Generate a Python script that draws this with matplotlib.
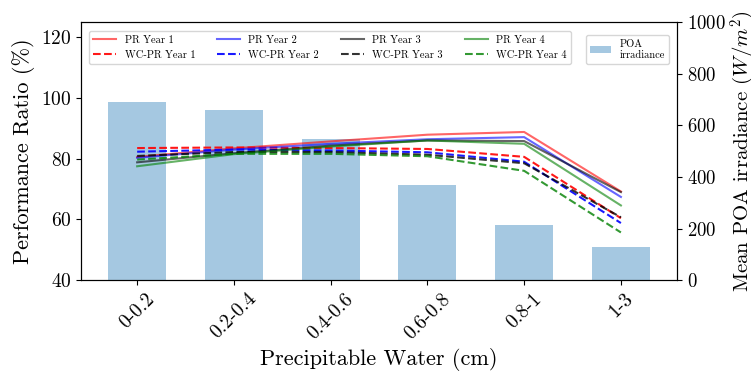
import matplotlib
matplotlib.use("Agg")
import matplotlib.pyplot as plt
import numpy as np

plt.rcParams['font.family'] = 'serif'
plt.rcParams['font.serif'] = ['cmr10', 'DejaVu Serif']
plt.rcParams['mathtext.fontset'] = 'cm'
plt.rcParams['axes.formatter.use_mathtext'] = True

categories = ['0-0.2', '0.2-0.4', '0.4-0.6', '0.6-0.8', '0.8-1', '1-3']
poa = [690, 659, 547, 368, 213, 128]

pr_y1 = [80.6, 83.4, 85.7, 87.9, 88.8, 69.2]
pr_y2 = [80.3, 83.0, 84.9, 86.4, 87.1, 67.4]
pr_y3 = [78.8, 81.8, 84.3, 86.0, 85.8, 69.0]
pr_y4 = [77.5, 81.5, 84.0, 86.0, 84.9, 64.6]
wc_y1 = [83.5, 83.7, 83.5, 83.2, 80.6, 60.4]
wc_y2 = [82.3, 83.0, 82.7, 82.1, 79.0, 58.8]
wc_y3 = [80.9, 82.2, 82.2, 81.3, 78.5, 60.7]
wc_y4 = [79.7, 81.6, 81.6, 80.8, 76.0, 55.7]

fig = plt.figure(figsize=(7.51, 3.74), dpi=100)
ax = fig.add_axes([0.1079, 0.251, 0.7936, 0.69])
ax2 = ax.twinx()
x = np.arange(len(categories))

bars = ax2.bar(x, poa, width=0.6, color='#1f77b4', alpha=0.4, label='POA\nirradiance')
ax2.set_ylim(0, 1000)
ax2.tick_params(labelsize=13.5)
ax2.set_ylabel('Mean POA irradiance $(W/m^2)$', fontsize=15, labelpad=2)

series = [
    (pr_y1, 'red', '-', 0.6, 'PR Year 1'),
    (wc_y1, 'red', '--', 0.9, 'WC-PR Year 1'),
    (pr_y2, 'blue', '-', 0.6, 'PR Year 2'),
    (wc_y2, 'blue', '--', 0.9, 'WC-PR Year 2'),
    (pr_y3, 'black', '-', 0.6, 'PR Year 3'),
    (wc_y3, 'black', '--', 0.8, 'WC-PR Year 3'),
    (pr_y4, 'green', '-', 0.6, 'PR Year 4'),
    (wc_y4, 'green', '--', 0.8, 'WC-PR Year 4'),
]
handles = []
for vals, c, ls, a, lab in series:
    h, = ax.plot(x, vals, color=c, linestyle=ls, alpha=a, linewidth=1.5, label=lab)
    handles.append(h)

ax.set_zorder(ax2.get_zorder() + 1)
ax.patch.set_visible(False)

ax.set_ylim(40, 125)
ax.set_yticks([40, 60, 80, 100, 120])
ax.set_xlim(-0.58, 5.58)
ax.set_xticks(x)
ax.set_xticklabels(categories, rotation=45)
ax.tick_params(labelsize=14)
ax.set_ylabel('Performance Ratio (%)', fontsize=16)
ax.set_xlabel('Precipitable Water (cm)', fontsize=16)

ax.legend(handles=handles, ncol=4, loc='upper left', fontsize=7.5,
          bbox_to_anchor=(0.005, 0.985), columnspacing=2.1, handlelength=2.2)
ax2.legend(loc='upper right', fontsize=7.5, bbox_to_anchor=(0.995, 0.97))

fig.savefig('out.png', dpi=100)
